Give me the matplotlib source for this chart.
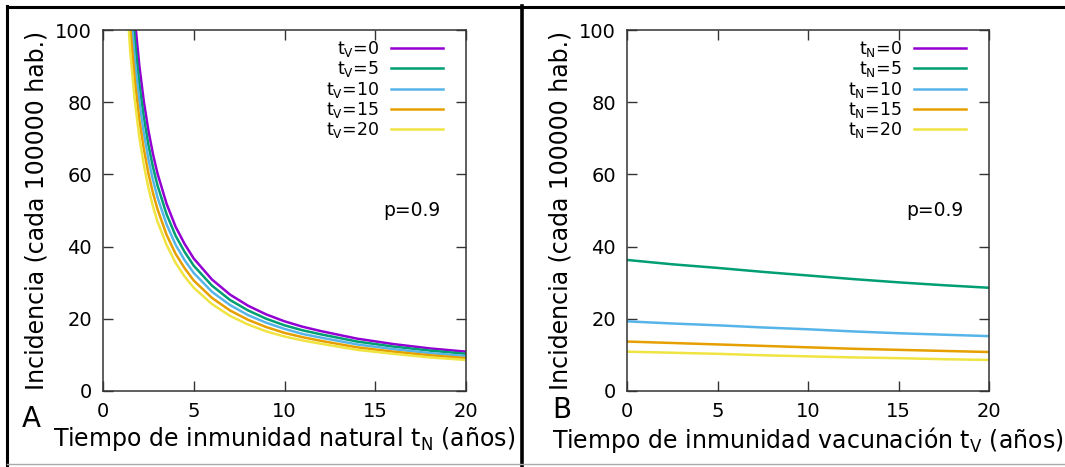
import numpy as np
import matplotlib
matplotlib.use("Agg")
import matplotlib.pyplot as plt
from matplotlib.lines import Line2D

plt.rcParams['font.family'] = ['DejaVu Sans']
plt.rcParams['mathtext.default'] = 'regular'

# ---- Panel A: incidence vs natural immunity time t_N, one curve per t_V ----
tN_grid = [1.25, 1.5, 1.75, 2, 2.25, 2.5, 2.75, 3, 3.5, 4, 4.5, 5, 6, 7, 8,
           9, 10, 11, 12, 14, 16, 18, 20]
inc_tV0 = [145.3, 120.6, 103.2, 90.2, 80.2, 72.2, 65.7, 60.3, 51.9, 45.5, 40.7,
           36.7, 30.9, 26.7, 23.6, 21.2, 19.3, 17.8, 16.6, 14.5, 13.0, 11.8, 10.9]
inc_tV5 = [137.3, 114.0, 97.5, 85.2, 75.8, 68.2, 62.1, 57.0, 49.0, 43.0, 38.5,
           34.7, 29.2, 25.2, 22.3, 20.0, 18.2, 16.8, 15.7, 13.7, 12.3, 11.2, 10.3]
inc_tV10 = [129.3, 107.3, 91.8, 80.3, 71.4, 64.3, 58.5, 53.7, 46.2, 40.5, 36.2,
            32.7, 27.5, 23.8, 21.0, 18.9, 17.2, 15.8, 14.8, 12.9, 11.6, 10.5, 9.7]
inc_tV15 = [121.3, 100.7, 86.2, 75.3, 67.0, 60.3, 54.9, 50.4, 43.3, 38.0, 34.0,
            30.6, 25.8, 22.3, 19.7, 17.7, 16.1, 14.9, 13.9, 12.1, 10.9, 9.9, 9.1]
inc_tV20 = [113.3, 94.1, 80.5, 70.4, 62.6, 56.3, 51.2, 47.0, 40.5, 35.5, 31.7,
            28.6, 24.1, 20.8, 18.4, 16.5, 15.1, 14.0, 13.1, 11.4, 10.3, 9.3, 8.6]
labels_A = ['$t_V$=0', '$t_V$=5', '$t_V$=10', '$t_V$=15', '$t_V$=20']

# ---- Panel B: incidence vs vaccine immunity time t_V, one curve per t_N ----
tV_grid = [0, 2.5, 5, 7.5, 10, 12.5, 15, 17.5, 20]
inc_tN0 = []  # diverges for t_N = 0: stays above the plotted range
inc_tN5 = [36.3, 35.1, 34.1, 33.0, 32.0, 31.0, 30.1, 29.3, 28.6]
inc_tN10 = [19.3, 18.7, 18.2, 17.6, 17.1, 16.5, 16.0, 15.6, 15.2]
inc_tN15 = [13.7, 13.3, 12.9, 12.5, 12.1, 11.7, 11.4, 11.1, 10.8]
inc_tN20 = [10.9, 10.6, 10.3, 9.9, 9.6, 9.3, 9.1, 8.8, 8.6]
labels_B = ['$t_N$=0', '$t_N$=5', '$t_N$=10', '$t_N$=15', '$t_N$=20']

colors = ['#9400d3', '#009e73', '#56b4e9', '#e69f00', '#f0e442']

W, H = 1065, 467
fig = plt.figure(figsize=(W / 100, H / 100), dpi=100)


def px_axes(left, top, right, bottom):
    return fig.add_axes([left / W, 1 - bottom / H, (right - left) / W, (bottom - top) / H])


axA = px_axes(103, 30, 466, 391)
axB = px_axes(627, 30, 989, 391)


def style(ax, xlabel, letter, letter_xy):
    ax.set_xlim(0, 20)
    ax.set_ylim(0, 100)
    ax.set_xticks([0, 5, 10, 15, 20])
    ax.set_yticks([0, 20, 40, 60, 80, 100])
    ax.tick_params(direction='in', length=7, width=1, color='#333333',
                   top=True, right=True, labelsize=14, pad=8)
    for s in ax.spines.values():
        s.set_color('#333333')
        s.set_linewidth(1.1)
    ax.set_xlabel(xlabel, fontsize=17, labelpad=3)
    ax.set_ylabel('Incidencia (cada 100000 hab.)', fontsize=17, labelpad=5)
    ax.text(18.6, 50, 'p=0.9', ha='right', va='center', fontsize=13.5)
    fig.text(letter_xy[0] / W, 1 - letter_xy[1] / H, letter, fontsize=20,
             ha='left', va='center')


seriesA = [inc_tV0, inc_tV5, inc_tV10, inc_tV15, inc_tV20]
for vals, c, lab in zip(seriesA, colors, labels_A):
    axA.plot(tN_grid, vals, color=c, lw=1.8, label=lab)

seriesB = [inc_tN0, inc_tN5, inc_tN10, inc_tN15, inc_tN20]
for vals, c, lab in zip(seriesB, colors, labels_B):
    axB.plot(tV_grid[:len(vals)], vals, color=c, lw=1.8, label=lab)

style(axA, 'Tiempo de inmunidad natural $t_N$ (años)', 'A', (22, 419))
style(axB, 'Tiempo de inmunidad vacunación $t_V$ (años)', 'B', (552, 410))

for ax in (axA, axB):
    ax.legend(loc='upper right', bbox_to_anchor=(0.937, 0.975), frameon=False,
              markerfirst=False, fontsize=12.5, handlelength=3.0,
              handletextpad=0.7, labelspacing=0.02, borderaxespad=0,
              borderpad=0)

# outer frame and divider between panels
frame_kw = dict(color='black', lw=2.2, transform=fig.transFigure)
fig.add_artist(Line2D([7 / W, 1], [1 - 6.5 / H, 1 - 6.5 / H], **frame_kw))
fig.add_artist(Line2D([7 / W, 7 / W], [1 - 6 / H, 0], **frame_kw))
fig.add_artist(Line2D([522 / W, 522 / W], [1 - 6 / H, 0], color='black', lw=2.6,
                      transform=fig.transFigure))
fig.add_artist(Line2D([7 / W, 1], [1 - 463.5 / H, 1 - 463.5 / H], color='#aaaaaa',
                      lw=1.0, transform=fig.transFigure))

fig.savefig('out.png', dpi=100)
